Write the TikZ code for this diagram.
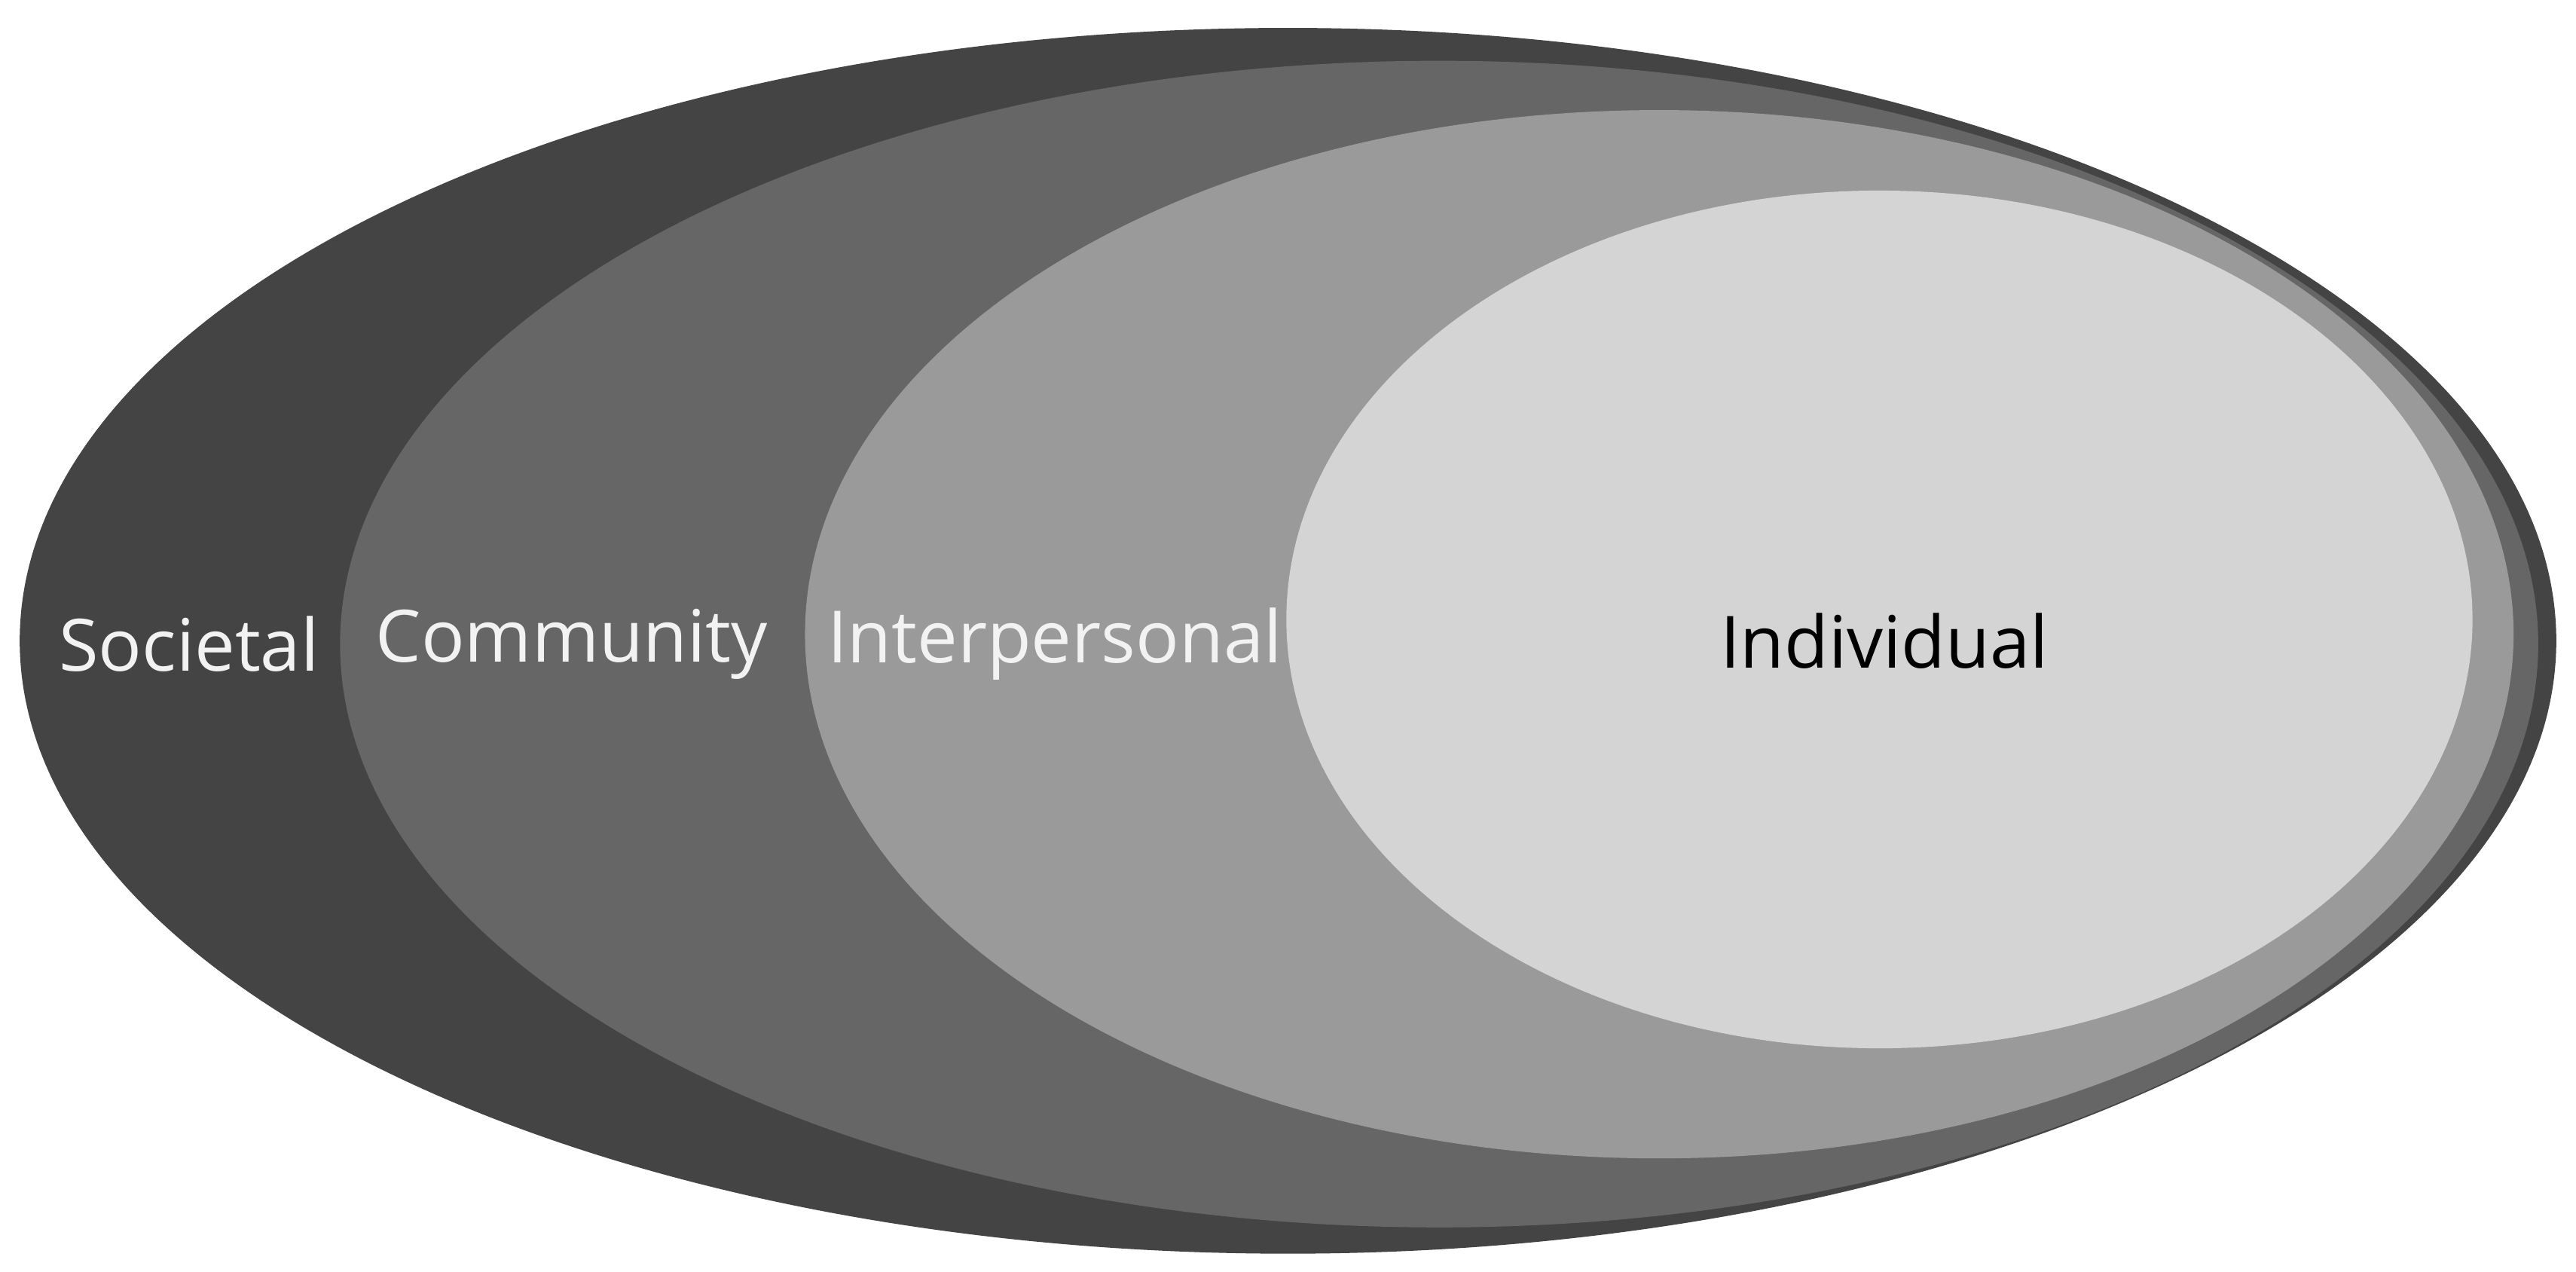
\documentclass[tikz,border=0pt]{standalone}
\usepackage{fontspec}
\setmainfont{Open Sans}
\begin{document}
\begin{tikzpicture}[x=0.1mm,y=-0.1mm,
  lay/.style={draw=none},
  lbl/.style={font=\fontsize{12.5}{14}\selectfont, text=#1}]
\useasboundingbox (0,0) rectangle (1568,774);
\fill[white] (0,0) rectangle (1568,774);
\fill[lay, fill={rgb,255:red,68;green,68;blue,68}] (784,390) ellipse [x radius=772, y radius=373];
\fill[lay, fill={rgb,255:red,102;green,102;blue,102}] (876,392) ellipse [x radius=669, y radius=355];
\fill[lay, fill={rgb,255:red,154;green,154;blue,154}] (1010,386) ellipse [x radius=520, y radius=319];
\fill[lay, fill={rgb,255:red,212;green,212;blue,212}] (1144,377) ellipse [x radius=361, y radius=261];
\node[lbl=white!95!black] (soc) at (115,392) {Societal};
\node[lbl=white!95!black] (com) at (348,392) {Community};
\node[lbl=white!95!black] (int) at (642,392) {Interpersonal};
\node[lbl=black] (ind) at (1147,390) {Individual};
\end{tikzpicture}
\end{document}
